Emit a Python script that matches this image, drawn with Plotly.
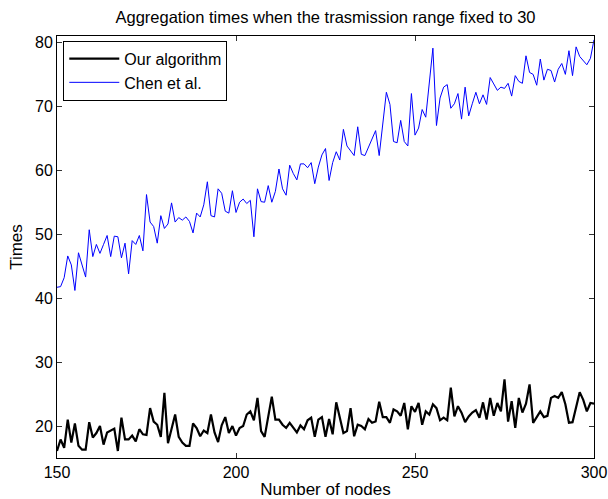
import plotly.graph_objects as go

nodes = list(range(150, 301))

our_algorithm = [
    16.1, 17.9, 16.6, 21.0, 17.4, 20.4, 16.9, 16.3, 16.3, 20.6,
    18.2, 18.9, 20.0, 17.1, 19.0, 19.3, 19.6, 16.1, 21.3, 17.9,
    17.9, 18.5, 17.6, 19.5, 18.7, 18.6, 22.8, 20.7, 20.2, 18.3,
    25.2, 17.3, 19.7, 21.8, 18.3, 17.4, 16.9, 16.9, 20.4, 19.7,
    18.4, 19.3, 18.9, 21.8, 19.0, 17.5, 20.1, 21.4, 18.9, 20.0,
    18.5, 19.7, 20.0, 21.8, 22.3, 20.9, 24.4, 19.2, 18.3, 21.8,
    24.6, 21.0, 21.0, 20.2, 19.7, 20.5, 19.7, 19.0, 20.1, 19.5,
    20.9, 21.3, 18.3, 21.0, 21.4, 18.3, 21.1, 18.7, 23.7, 21.5,
    18.9, 19.2, 22.8, 18.4, 20.2, 20.0, 19.5, 21.1, 20.5, 20.7,
    23.8, 21.4, 21.4, 20.5, 22.6, 22.3, 21.6, 23.6, 19.5, 23.1,
    22.2, 23.6, 20.2, 22.3, 21.8, 23.4, 22.8, 20.9, 21.3, 20.9,
    26.0, 21.5, 23.1, 22.1, 20.6, 21.5, 22.1, 22.5, 21.3, 23.7,
    21.0, 24.4, 21.6, 23.6, 22.3, 27.3, 20.7, 23.9, 19.7, 24.4,
    22.1, 23.5, 26.5, 20.5, 21.5, 22.3, 21.4, 21.6, 24.4, 24.7,
    24.4, 25.3, 23.4, 20.5, 20.6, 23.1, 25.3, 24.1, 22.3, 23.6,
    23.5,
]

chen_et_al = [
    41.7, 41.8, 43.2, 46.6, 45.2, 41.2, 47.1, 45.2, 43.3, 50.7,
    46.5, 48.4, 47.0, 48.4, 49.8, 46.5, 49.7, 49.6, 46.3, 48.6,
    43.8, 49.0, 48.4, 49.8, 47.4, 56.2, 51.9, 51.2, 48.6, 52.9,
    50.9, 51.6, 54.9, 51.9, 52.6, 52.2, 52.7, 52.0, 50.2, 53.3,
    52.7, 54.6, 58.2, 52.9, 52.7, 57.1, 56.4, 53.6, 53.3, 56.8,
    53.4, 55.0, 55.5, 54.8, 55.3, 49.6, 57.1, 55.1, 55.0, 57.6,
    55.0, 56.7, 60.2, 57.1, 56.1, 60.8, 59.5, 58.5, 61.0, 61.0,
    60.4, 61.2, 57.9, 60.5, 62.4, 63.4, 58.4, 61.2, 62.9, 61.6,
    66.4, 63.8, 63.0, 62.3, 66.8, 62.5, 62.3, 63.7, 65.0, 66.2,
    62.3, 67.4, 72.2, 70.3, 64.5, 64.3, 67.8, 64.5, 63.8, 72.0,
    65.5, 66.6, 69.5, 68.3, 73.5, 79.1, 67.0, 71.3, 73.0, 73.4,
    69.7, 70.4, 72.0, 68.0, 73.0, 68.5, 70.4, 72.2, 70.4, 71.8,
    70.3, 74.5, 73.5, 72.5, 73.0, 72.8, 73.6, 71.6, 74.8, 73.9,
    73.6, 77.9, 75.3, 75.0, 73.3, 77.4, 74.1, 75.8, 75.6, 73.8,
    75.8, 76.7, 75.0, 78.7, 74.8, 79.3, 77.8, 77.2, 76.5, 77.5,
    80.4,
]

x_ticks = [150, 200, 250, 300]
y_ticks = [20, 30, 40, 50, 60, 70, 80]

FONT = "Liberation Sans, Arial, Helvetica, sans-serif"

fig = go.Figure()
fig.add_trace(go.Scatter(x=nodes, y=our_algorithm, mode="lines",
                         name="Our algorithm",
                         line=dict(color="black", width=2.2)))
fig.add_trace(go.Scatter(x=nodes, y=chen_et_al, mode="lines",
                         name="Chen et al.",
                         line=dict(color="#0000ff", width=1)))

axis_common = dict(
    showgrid=False, zeroline=False, showline=True, linecolor="black",
    linewidth=1, mirror="allticks", ticks="inside", ticklen=5,
    tickcolor="#333333", tickwidth=1, automargin=False,
    tickfont=dict(family=FONT, size=16, color="black"),
)

fig.update_layout(
    width=608, height=499,
    margin=dict(l=57, r=14, t=36, b=41),
    paper_bgcolor="white", plot_bgcolor="white",
    font=dict(family=FONT, size=16, color="black"),
    title=dict(text="Aggregation times when the trasmission range fixed to 30",
               x=0.5, xref="paper", y=1 - 17 / 499, yanchor="middle",
               xanchor="center",
               font=dict(family=FONT, size=16.5, color="black")),
    xaxis=dict(range=[150, 300], tickvals=x_ticks,
               title=dict(text="Number of nodes", standoff=2,
                          font=dict(family=FONT, size=17)),
               **axis_common),
    yaxis=dict(range=[15, 81], tickvals=y_ticks,
               title=dict(text="Times", standoff=8,
                          font=dict(family=FONT, size=17)),
               **axis_common),
    legend=dict(x=0.0117, y=0.989, xanchor="left", yanchor="top",
                bgcolor="white", bordercolor="black", borderwidth=1,
                itemwidth=50,
                font=dict(family=FONT, size=16), tracegroupgap=0),
    showlegend=True,
)

fig.write_html("out.html",
               config={"displayModeBar": False},
               post_script="document.body.style.margin='0';"
                           "document.body.style.overflow='hidden';")
